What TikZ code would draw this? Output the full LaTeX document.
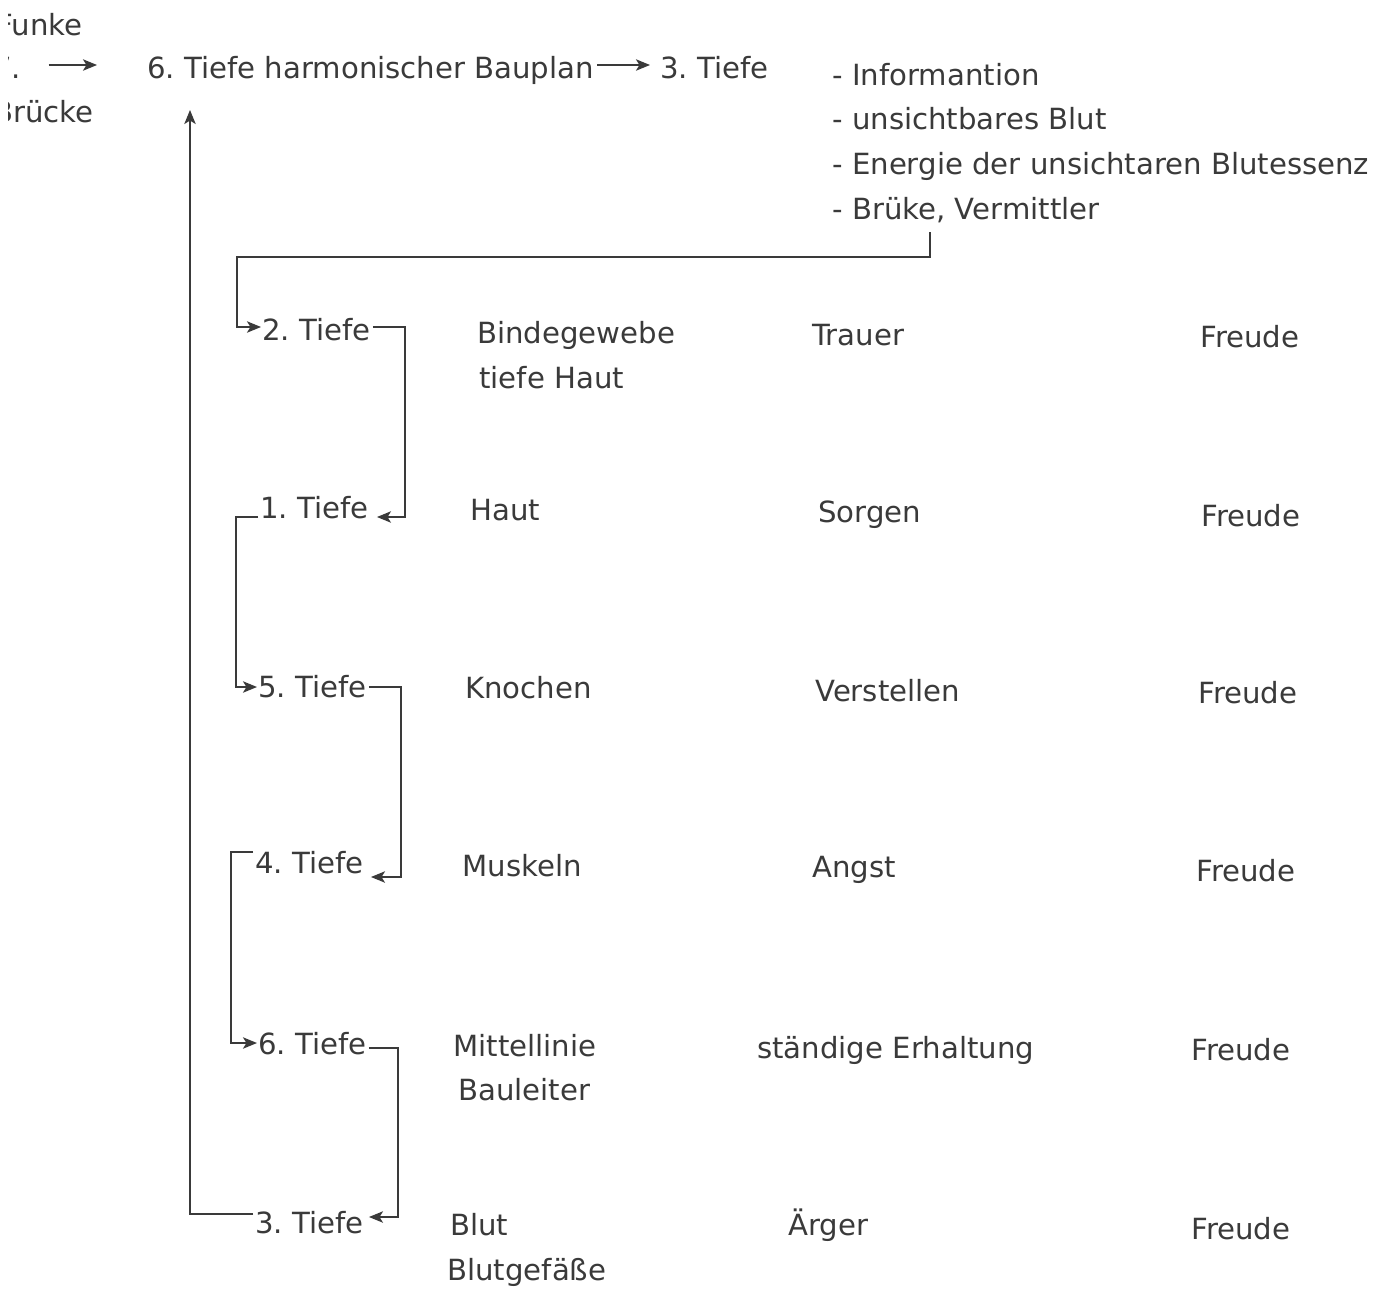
\documentclass[tikz,border=0pt]{standalone}
\usepackage{fontspec}
\setmainfont{DejaVu Sans}
\usetikzlibrary{arrows.meta,calc}
\definecolor{ink}{HTML}{3A3A3A}
\begin{document}
\frenchspacing
\begin{tikzpicture}[x=0.02cm,y=-0.02cm,
  txt/.style={anchor=base west,inner sep=0pt,text=ink,font=\fontsize{16.6}{20}\selectfont},
  conn/.style={draw=ink,line width=0.8pt,-{Stealth[length=8pt,width=6.5pt,inset=2pt]}}]
\fill[white] (0,0) rectangle (1387,1292);
\useasboundingbox (0,0) rectangle (1387,1292);
\clip (0,0) rectangle (1387,1292);

% cut-off texts at the left edge
\begin{scope}
\clip (8,0) rectangle (140,140);
\node[txt] (funke) at (-4,35) {Funke};
\node[txt] (seven) at (-7,78) {7.};
\node[txt] (bruecke) at (-7,122) {Brücke};
\end{scope}

% top line
\node[txt] (top6) at (147,78) {6. Tiefe harmonischer Bauplan};
\node[txt] (top3) at (660,78) {3. Tiefe};
\node[txt] (l1) at (832,85) {- Informantion};
\node[txt] (l2) at (832,129) {- unsichtbares Blut};
\node[txt] (l3) at (832,174) {- Energie der unsichtaren Blutessenz};
\node[txt] (l4) at (832,219) {- Brüke, Vermittler};
\coordinate (k) at (930,232);
\coordinate (topArrow) at (190,110);

% Tiefe column
\node[txt] (t2) at (262,340) {2. Tiefe};
\node[txt] (t1) at (260,518) {1. Tiefe};
\node[txt] (t5) at (258,697) {5. Tiefe};
\node[txt] (t4) at (255,873) {4. Tiefe};
\node[txt] (t6) at (258,1054) {6. Tiefe};
\node[txt] (t3) at (255,1233) {3. Tiefe};

% vertical guide positions of the connectors
\coordinate (r1) at (405,0);
\coordinate (r2) at (401,0);
\coordinate (r3) at (398,0);

% second column
\node[txt] (a2) at (477,343) {Bindegewebe};
\node[txt] (a2b) at (479,388) {tiefe Haut};
\node[txt] (a1) at (470,520) {Haut};
\node[txt] (a5) at (465,698) {Knochen};
\node[txt] (a4) at (462,876) {Muskeln};
\node[txt] (a6) at (453,1056) {Mittellinie};
\node[txt] (a6b) at (458,1100) {Bauleiter};
\node[txt] (a3) at (450,1235) {Blut};
\node[txt] (a3b) at (447,1280) {Blutgefäße};

% third column
\node[txt] (b2) at (812,345) {Trauer};
\node[txt] (b1) at (818,522) {Sorgen};
\node[txt] (b5) at (815,701) {Verstellen};
\node[txt] (b4) at (812,877) {Angst};
\node[txt] (b6) at (757,1058) {ständige Erhaltung};
\node[txt] (b3) at (788,1235) {Ärger};

% fourth column
\node[txt] (c2) at (1200,347) {Freude};
\node[txt] (c1) at (1201,526) {Freude};
\node[txt] (c5) at (1198,703) {Freude};
\node[txt] (c4) at (1196,881) {Freude};
\node[txt] (c6) at (1191,1060) {Freude};
\node[txt] (c3) at (1191,1239) {Freude};

% end points next to the texts
\coordinate (s2) at ($(t2.base east)+(2,-13)$);
\coordinate (e1) at ($(t1.base east)+(8,-1)$);
\coordinate (s5) at ($(t5.base east)+(2,-10)$);
\coordinate (e4) at ($(t4.base east)+(7,4)$);
\coordinate (s6) at ($(t6.base east)+(2,-6)$);
\coordinate (e3) at ($(t3.base east)+(5,-16)$);

% connectors
\draw[conn] ($(seven.base east)+(27,-13)$) -- ($(top6.base west)+(-50,-13)$);
\draw[conn] ($(top6.base east)+(3,-13)$) -- ($(top3.base west)+(-10,-13)$);
\draw[conn] (k) |- (237,257) |- ($(t2.base west)+(-1,-13)$);
\draw[conn] (s2) -| (r1 |- e1) -- (e1);
\draw[conn] ($(t1.base west)+(-2,-1)$) -- ++(-22,0) |- ($(t5.base west)+(-1,-10)$);
\draw[conn] (s5) -| (r2 |- e4) -- (e4);
\draw[conn] ($(t4.base west)+(-2,-21)$) -- ++(-22,0) |- ($(t6.base west)+(-1,-11)$);
\draw[conn] (s6) -| (r3 |- e3) -- (e3);
\draw[conn] ($(t3.base west)+(-2,-19)$) -| (topArrow);
\end{tikzpicture}
\end{document}
